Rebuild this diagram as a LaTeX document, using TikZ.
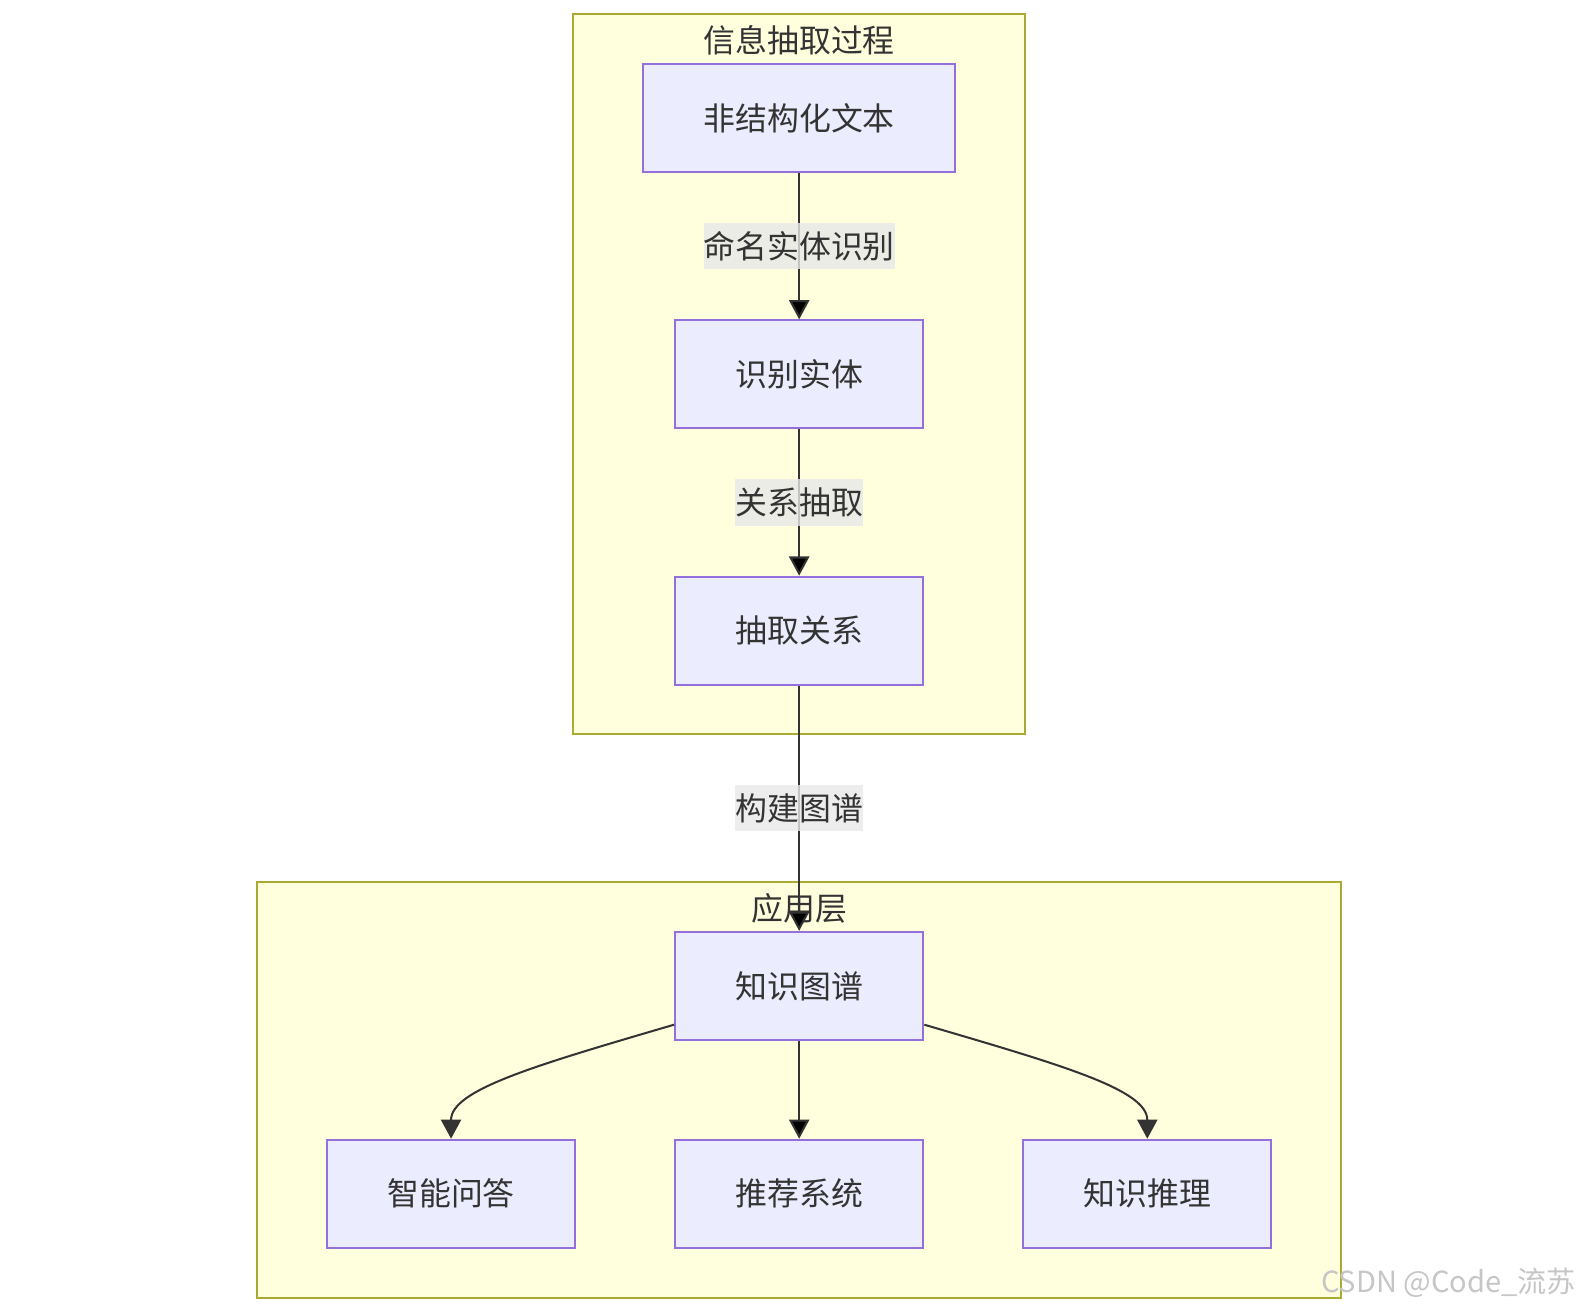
\documentclass[tikz,border=0pt]{standalone}
\usepackage{fontspec}
\setmainfont{Noto Sans CJK SC}
\usetikzlibrary{positioning, arrows.meta}

\definecolor{clusterfill}{HTML}{FFFFDE}
\definecolor{clusterline}{HTML}{AAAA33}
\definecolor{nodefill}{HTML}{ECECFF}
\definecolor{nodeline}{HTML}{9370DB}
\definecolor{edgeline}{HTML}{333333}
\definecolor{labelfill}{HTML}{E8E8E8}

\begin{document}
\begin{tikzpicture}
[x=0.5pt,y=-0.5pt,
                    font=\fontsize{15.8}{19}\selectfont,text=edgeline,
                    cluster/.style={draw=clusterline,fill=clusterfill,line width=1pt},
                    box/.style={draw=nodeline,fill=nodefill,line width=1pt,
                        minimum width=123pt,minimum height=53.5pt,inner sep=0pt},
                    lbl/.style={fill=labelfill,fill opacity=0.8,text opacity=1,
                        inner xsep=0pt,inner ysep=3pt,minimum height=23pt},
                    flow/.style={draw=edgeline,line width=1pt,
                        -{Triangle[width=10pt,length=9.5pt]}}]
\useasboundingbox (0,0) rectangle (1567.8,1298.2);

% subgraph boxes
\draw[cluster] (568,14) rectangle (1016,727);
\node (ietitle) at (792,40) {信息抽取过程};
\draw[cluster] (255,874) rectangle (1329,1286);
\node (apptitle) at (792,900) {应用层};

% nodes
\node[box, minimum width=154.5pt] (text) at (792,117) {非结构化文本};
\node[box] (entity) at (792,371) {识别实体};
\node[box] (relation) at (792,625) {抽取关系};
\node[box] (kg) at (792,977) {知识图谱};
\node[box] (qa) at (447,1183) {智能问答};
\node[box] (rec) at (792,1183) {推荐系统};
\node[box] (reason) at (1137,1183) {知识推理};

\path[flow]
	(text) edge node[lbl] {命名实体识别} (entity)
	(entity) edge node[lbl] {关系抽取} (relation)
	(relation) edge node[lbl, pos=0.5] {构建图谱} (kg)
	(kg) edge (rec);

\coordinate (kgleft) at ([yshift=8pt]kg.south west);
\coordinate (kgright) at ([yshift=8pt]kg.south east);
\draw[flow] (kgleft) .. controls (530,1056) and (447,1080) .. (qa.north);
\draw[flow] (kgright) .. controls (1054,1056) and (1137,1080) .. (reason.north);

% watermark
\node[text=gray!45, anchor=east, inner sep=0pt, font=\fontsize{14.4}{17}\selectfont] (mark) at (1562,1271) {CSDN @Code\_流苏};

\end{tikzpicture}
\end{document}
